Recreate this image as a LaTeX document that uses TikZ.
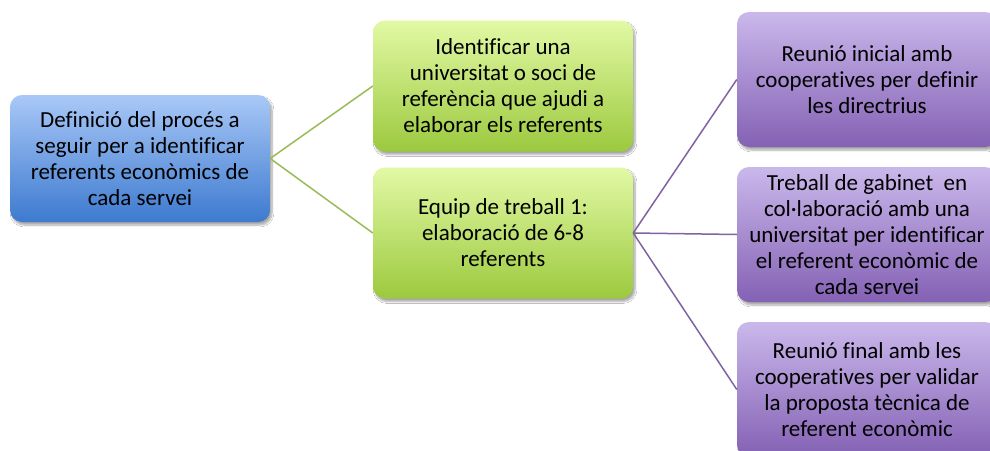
\documentclass[tikz,border=0pt]{standalone}
\usepackage{fontspec}
\setmainfont{Carlito}[Ligatures=NoCommon]
\usetikzlibrary{shadows.blur}
\definecolor{bluetop}{HTML}{A9C8F7}
\definecolor{bluebot}{HTML}{3D7ACF}
\definecolor{greentop}{HTML}{E2F9A5}
\definecolor{greenbot}{HTML}{9CC93E}
\definecolor{purpletop}{HTML}{CAB8EB}
\definecolor{purplebot}{HTML}{8461B4}
\definecolor{greenline}{HTML}{9BBB59}
\definecolor{purpleline}{HTML}{8064A2}
\tikzset{
  box/.style={rounded corners=12pt, minimum width=260pt, align=center,
    inner sep=0pt, font=\fontsize{23}{26}\selectfont, text=black, shading=axis,
    blur shadow={shadow xshift=2pt, shadow yshift=-3pt, shadow blur steps=8, shadow opacity=35}},
  bluebox/.style={box, top color=bluetop, bottom color=bluebot, minimum height=127pt},
  greenbox/.style={box, top color=greentop, bottom color=greenbot, minimum height=131pt},
  purplebox/.style={box, top color=purpletop, bottom color=purplebot, minimum height=135pt},
  gline/.style={draw=greenline, line width=1.5pt},
  pline/.style={draw=purpleline, line width=1.5pt}
}
\begin{document}
\begin{tikzpicture}[x=1pt,y=-1pt]
\useasboundingbox (0,0) rectangle (990,450);
\clip (0,0) rectangle (990,450);
\fill[white] (0,0) rectangle (990,450);
\node[bluebox] (root) at (140,158.5) {Definició del procés a\\seguir per a identificar\\referents econòmics de\\cada servei};
\node[greenbox] (g1) at (503,86) {Identificar una\\universitat o soci de\\referència que ajudi a\\elaborar els referents};
\node[greenbox] (g2) at (503,233) {Equip de treball 1:\\elaboració de 6-8\\referents};
\node[purplebox] (p1) at (867,79.5) {Reunió inicial amb\\cooperatives per definir\\les directrius};
\node[purplebox] (p2) at (867,234.5) {Treball de gabinet\ \ en\\col·laboració amb una\\universitat per identificar\\el referent econòmic de\\cada servei};
\node[purplebox] (p3) at (867,389.5) {Reunió final amb les\\cooperatives per validar\\la proposta tècnica de\\referent econòmic};
\draw[gline] (root.east) -- (g1.west);
\draw[gline] (root.east) -- (g2.west);
\draw[pline] (g2.east) -- (p1.west);
\draw[pline] (g2.east) -- (p2.west);
\draw[pline] (g2.east) -- (p3.west);
\end{tikzpicture}
\end{document}
